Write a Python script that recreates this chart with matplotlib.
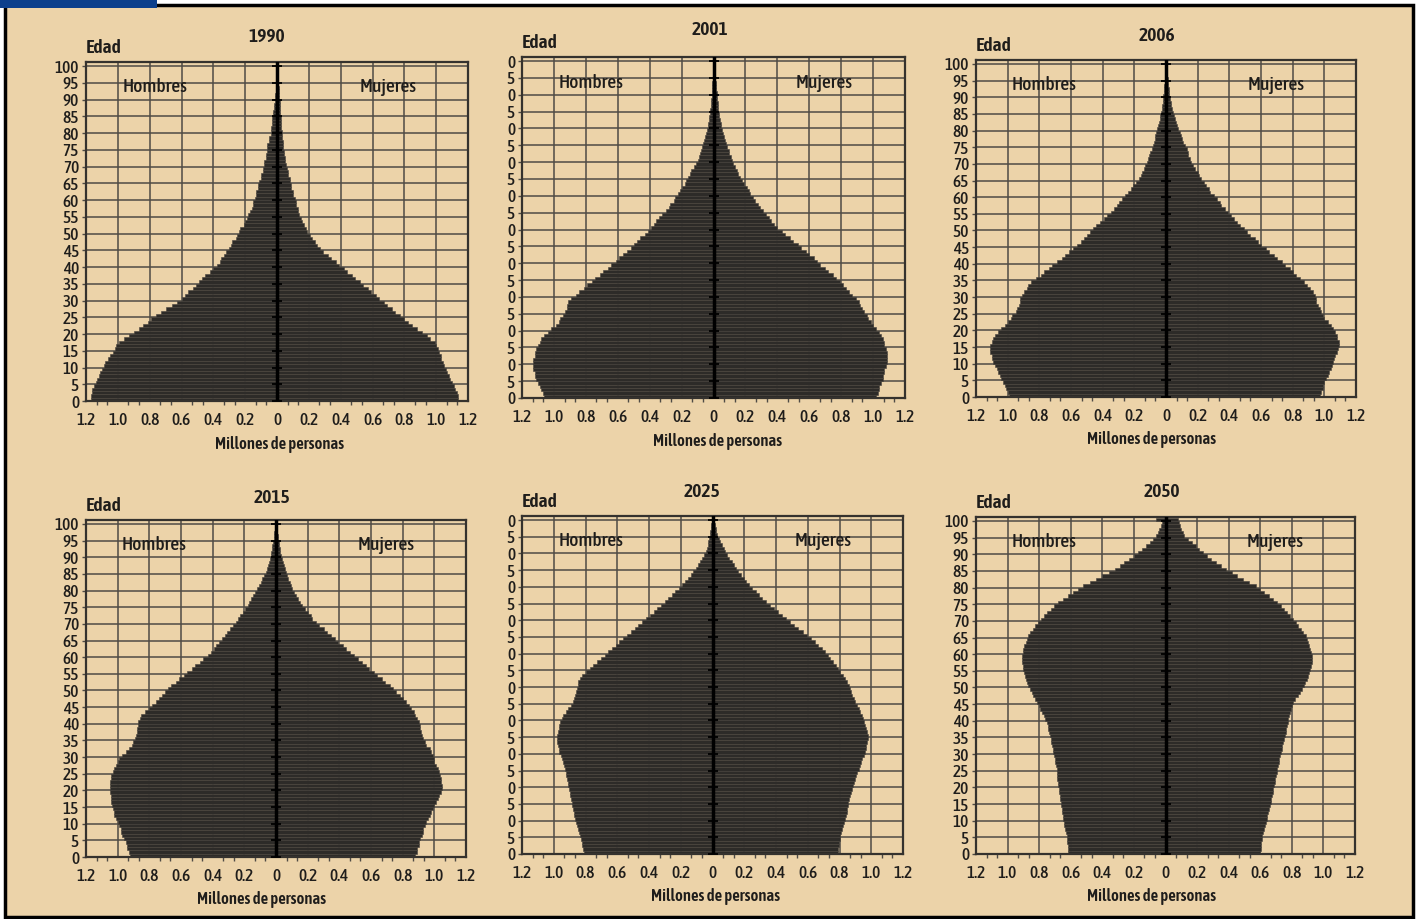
import matplotlib.pyplot as plt
import numpy as np
from matplotlib.patches import Rectangle
from matplotlib.ticker import AutoMinorLocator

plt.rcParams['font.family'] = ['Asap Condensed', 'Archivo Narrow', 'DejaVu Sans']

# ---- datos: millones de personas por edad simple (0..100) ----
ages = np.arange(0, 101)
years = ['1990', '2001', '2006', '2015', '2025', '2050']

hombres_1990 = [1.17, 1.17, 1.16, 1.16, 1.15, 1.14, 1.13, 1.12, 1.11, 1.10,
                1.09, 1.08, 1.06, 1.05, 1.03, 1.02, 1.01, 0.99, 0.96, 0.93,
                0.90, 0.87, 0.84, 0.81, 0.79, 0.76, 0.73, 0.70, 0.66, 0.63,
                0.60, 0.58, 0.56, 0.53, 0.51, 0.49, 0.47, 0.45, 0.42, 0.40,
                0.38, 0.36, 0.35, 0.33, 0.32, 0.30, 0.29, 0.28, 0.26, 0.25,
                0.24, 0.23, 0.21, 0.20, 0.19, 0.18, 0.17, 0.16, 0.15, 0.15,
                0.14, 0.13, 0.13, 0.12, 0.12, 0.11, 0.10, 0.10, 0.09, 0.09,
                0.08, 0.08, 0.07, 0.07, 0.06, 0.06, 0.06, 0.05, 0.05, 0.04,
                0.04, 0.04, 0.03, 0.03, 0.03, 0.025, 0.022, 0.02, 0.017, 0.015,
                0.013, 0.011, 0.009, 0.008, 0.006, 0.005, 0.004, 0.004, 0.003, 0.003, 0.002]
mujeres_1990 = [1.14, 1.14, 1.13, 1.12, 1.11, 1.10, 1.09, 1.08, 1.07, 1.06,
                1.05, 1.04, 1.03, 1.03, 1.02, 1.01, 1.00, 0.99, 0.96, 0.94,
                0.91, 0.88, 0.85, 0.82, 0.80, 0.77, 0.74, 0.72, 0.69, 0.67,
                0.64, 0.62, 0.59, 0.57, 0.54, 0.52, 0.49, 0.47, 0.44, 0.42,
                0.39, 0.37, 0.34, 0.32, 0.29, 0.27, 0.25, 0.24, 0.22, 0.21,
                0.19, 0.18, 0.17, 0.16, 0.15, 0.14, 0.13, 0.13, 0.12, 0.12,
                0.11, 0.10, 0.10, 0.09, 0.09, 0.08, 0.08, 0.07, 0.07, 0.06,
                0.056, 0.053, 0.05, 0.047, 0.043, 0.04, 0.038, 0.036, 0.034, 0.032,
                0.03, 0.028, 0.026, 0.024, 0.022, 0.02, 0.019, 0.018, 0.017, 0.016,
                0.015, 0.014, 0.012, 0.011, 0.009, 0.008, 0.007, 0.006, 0.005, 0.004, 0.003]

hombres_2001 = [1.06, 1.07, 1.08, 1.09, 1.10, 1.11, 1.12, 1.12, 1.13, 1.13,
                1.13, 1.13, 1.12, 1.12, 1.11, 1.10, 1.09, 1.08, 1.06, 1.04,
                1.02, 0.99, 0.97, 0.96, 0.94, 0.93, 0.92, 0.92, 0.91, 0.89,
                0.86, 0.84, 0.81, 0.79, 0.76, 0.74, 0.71, 0.69, 0.66, 0.64,
                0.61, 0.59, 0.57, 0.54, 0.52, 0.50, 0.48, 0.46, 0.43, 0.41,
                0.39, 0.37, 0.36, 0.34, 0.32, 0.30, 0.28, 0.27, 0.25, 0.24,
                0.22, 0.21, 0.20, 0.18, 0.17, 0.16, 0.15, 0.14, 0.12, 0.11,
                0.10, 0.093, 0.086, 0.08, 0.073, 0.066, 0.06, 0.054, 0.047, 0.041,
                0.035, 0.032, 0.029, 0.026, 0.023, 0.02, 0.018, 0.016, 0.014, 0.012,
                0.01, 0.009, 0.008, 0.007, 0.006, 0.005, 0.004, 0.004, 0.003, 0.003, 0.002]
mujeres_2001 = [1.02, 1.03, 1.04, 1.04, 1.05, 1.06, 1.06, 1.07, 1.07, 1.08,
                1.085, 1.085, 1.085, 1.085, 1.08, 1.07, 1.07, 1.06, 1.05, 1.04,
                1.02, 1.00, 0.99, 0.97, 0.96, 0.94, 0.93, 0.92, 0.91, 0.89,
                0.87, 0.85, 0.83, 0.81, 0.79, 0.77, 0.75, 0.72, 0.70, 0.67,
                0.65, 0.63, 0.60, 0.58, 0.55, 0.53, 0.50, 0.48, 0.45, 0.43,
                0.40, 0.38, 0.36, 0.35, 0.33, 0.31, 0.29, 0.28, 0.26, 0.25,
                0.23, 0.22, 0.21, 0.19, 0.18, 0.166, 0.155, 0.145, 0.134, 0.124,
                0.114, 0.107, 0.10, 0.094, 0.087, 0.08, 0.074, 0.067, 0.061, 0.054,
                0.048, 0.044, 0.041, 0.037, 0.034, 0.03, 0.028, 0.026, 0.023, 0.021,
                0.019, 0.017, 0.015, 0.014, 0.012, 0.01, 0.009, 0.007, 0.006, 0.005, 0.004]

hombres_2006 = [0.99, 1.00, 1.01, 1.02, 1.03, 1.04, 1.05, 1.06, 1.07, 1.08,
                1.09, 1.10, 1.10, 1.11, 1.11, 1.11, 1.10, 1.09, 1.08, 1.06,
                1.04, 1.02, 1.00, 0.98, 0.97, 0.95, 0.94, 0.93, 0.92, 0.92,
                0.91, 0.90, 0.88, 0.87, 0.85, 0.82, 0.79, 0.77, 0.74, 0.72,
                0.69, 0.66, 0.64, 0.61, 0.59, 0.56, 0.54, 0.52, 0.50, 0.48,
                0.46, 0.44, 0.42, 0.39, 0.37, 0.35, 0.33, 0.31, 0.30, 0.28,
                0.26, 0.24, 0.22, 0.21, 0.19, 0.17, 0.16, 0.15, 0.14, 0.13,
                0.12, 0.113, 0.105, 0.098, 0.091, 0.084, 0.078, 0.072, 0.067, 0.061,
                0.055, 0.05, 0.045, 0.04, 0.035, 0.03, 0.028, 0.025, 0.022, 0.02,
                0.017, 0.015, 0.013, 0.011, 0.009, 0.007, 0.006, 0.005, 0.004, 0.003, 0.002]
mujeres_2006 = [0.97, 0.98, 0.99, 0.99, 1.00, 1.01, 1.02, 1.03, 1.04, 1.05,
                1.055, 1.06, 1.07, 1.08, 1.085, 1.09, 1.09, 1.08, 1.08, 1.07,
                1.055, 1.04, 1.02, 1.00, 0.99, 0.98, 0.97, 0.96, 0.95, 0.95,
                0.94, 0.93, 0.91, 0.89, 0.87, 0.845, 0.82, 0.80, 0.78, 0.75,
                0.73, 0.70, 0.68, 0.65, 0.63, 0.60, 0.58, 0.56, 0.53, 0.51,
                0.49, 0.47, 0.45, 0.43, 0.41, 0.39, 0.37, 0.35, 0.34, 0.32,
                0.30, 0.28, 0.27, 0.25, 0.24, 0.22, 0.21, 0.20, 0.18, 0.17,
                0.16, 0.15, 0.14, 0.14, 0.13, 0.12, 0.11, 0.10, 0.095, 0.086,
                0.078, 0.071, 0.064, 0.056, 0.049, 0.042, 0.038, 0.034, 0.029, 0.025,
                0.021, 0.019, 0.017, 0.014, 0.012, 0.01, 0.009, 0.007, 0.006, 0.004, 0.003]

hombres_2015 = [0.92, 0.93, 0.94, 0.94, 0.95, 0.96, 0.97, 0.98, 0.98, 0.99,
                1.00, 1.01, 1.02, 1.02, 1.03, 1.035, 1.04, 1.04, 1.045, 1.05,
                1.05, 1.05, 1.05, 1.045, 1.04, 1.03, 1.02, 1.01, 1.00, 0.99,
                0.97, 0.95, 0.93, 0.91, 0.90, 0.89, 0.885, 0.88, 0.875, 0.87,
                0.87, 0.86, 0.85, 0.83, 0.80, 0.78, 0.76, 0.74, 0.72, 0.70,
                0.68, 0.66, 0.63, 0.61, 0.58, 0.56, 0.53, 0.51, 0.48, 0.46,
                0.43, 0.41, 0.39, 0.38, 0.36, 0.34, 0.32, 0.31, 0.29, 0.27,
                0.255, 0.24, 0.225, 0.21, 0.195, 0.18, 0.168, 0.155, 0.143, 0.13,
                0.118, 0.107, 0.097, 0.086, 0.076, 0.065, 0.059, 0.053, 0.046, 0.04,
                0.034, 0.03, 0.026, 0.023, 0.019, 0.015, 0.013, 0.011, 0.008, 0.006, 0.004]
mujeres_2015 = [0.88, 0.89, 0.89, 0.90, 0.90, 0.91, 0.92, 0.93, 0.93, 0.94,
                0.95, 0.96, 0.97, 0.98, 0.99, 1.00, 1.01, 1.02, 1.03, 1.04,
                1.046, 1.046, 1.04, 1.04, 1.035, 1.03, 1.02, 1.01, 1.00, 1.00,
                0.99, 0.98, 0.97, 0.95, 0.94, 0.93, 0.92, 0.915, 0.91, 0.91,
                0.905, 0.89, 0.88, 0.87, 0.85, 0.84, 0.82, 0.80, 0.78, 0.76,
                0.74, 0.72, 0.69, 0.67, 0.64, 0.62, 0.59, 0.57, 0.54, 0.52,
                0.49, 0.47, 0.44, 0.42, 0.39, 0.37, 0.35, 0.32, 0.30, 0.27,
                0.25, 0.23, 0.22, 0.20, 0.18, 0.167, 0.154, 0.141, 0.129, 0.116,
                0.103, 0.095, 0.086, 0.078, 0.069, 0.061, 0.055, 0.049, 0.042, 0.036,
                0.03, 0.026, 0.023, 0.019, 0.016, 0.012, 0.010, 0.008, 0.006, 0.005, 0.003]

hombres_2025 = [0.81, 0.815, 0.82, 0.825, 0.83, 0.835, 0.84, 0.85, 0.855, 0.86,
                0.866, 0.87, 0.875, 0.88, 0.884, 0.887, 0.89, 0.895, 0.90, 0.904,
                0.908, 0.912, 0.916, 0.92, 0.925, 0.93, 0.935, 0.94, 0.95, 0.957,
                0.965, 0.97, 0.975, 0.977, 0.977, 0.977, 0.975, 0.97, 0.965, 0.958,
                0.95, 0.94, 0.925, 0.908, 0.893, 0.877, 0.87, 0.865, 0.86, 0.855,
                0.85, 0.845, 0.835, 0.825, 0.80, 0.77, 0.75, 0.73, 0.705, 0.68,
                0.66, 0.635, 0.61, 0.59, 0.565, 0.54, 0.515, 0.49, 0.47, 0.445,
                0.42, 0.395, 0.37, 0.35, 0.325, 0.30, 0.28, 0.255, 0.235, 0.21,
                0.19, 0.172, 0.155, 0.138, 0.121, 0.104, 0.092, 0.079, 0.067, 0.054,
                0.042, 0.037, 0.031, 0.026, 0.02, 0.015, 0.013, 0.011, 0.008, 0.006, 0.004]
mujeres_2025 = [0.79, 0.79, 0.795, 0.795, 0.80, 0.80, 0.81, 0.815, 0.82, 0.83,
                0.835, 0.84, 0.845, 0.85, 0.853, 0.856, 0.862, 0.868, 0.875, 0.88,
                0.887, 0.894, 0.90, 0.907, 0.913, 0.92, 0.928, 0.936, 0.944, 0.952,
                0.96, 0.965, 0.97, 0.975, 0.978, 0.98, 0.975, 0.97, 0.963, 0.956,
                0.95, 0.94, 0.93, 0.92, 0.91, 0.90, 0.89, 0.88, 0.875, 0.868,
                0.86, 0.85, 0.835, 0.82, 0.805, 0.79, 0.775, 0.76, 0.74, 0.725,
                0.71, 0.69, 0.665, 0.645, 0.62, 0.595, 0.57, 0.54, 0.515, 0.49,
                0.46, 0.435, 0.41, 0.385, 0.36, 0.334, 0.313, 0.292, 0.272, 0.25,
                0.23, 0.213, 0.196, 0.18, 0.163, 0.146, 0.133, 0.12, 0.106, 0.093,
                0.08, 0.07, 0.06, 0.05, 0.04, 0.03, 0.025, 0.02, 0.016, 0.012, 0.008]

hombres_2050 = [0.615, 0.617, 0.62, 0.622, 0.624, 0.626, 0.63, 0.635, 0.64, 0.643,
                0.647, 0.65, 0.654, 0.657, 0.66, 0.664, 0.667, 0.67, 0.673, 0.677,
                0.68, 0.682, 0.684, 0.686, 0.688, 0.69, 0.694, 0.698, 0.702, 0.706,
                0.71, 0.714, 0.718, 0.722, 0.726, 0.73, 0.735, 0.741, 0.747, 0.753,
                0.76, 0.77, 0.78, 0.792, 0.803, 0.815, 0.826, 0.837, 0.848, 0.859,
                0.87, 0.876, 0.882, 0.888, 0.894, 0.90, 0.903, 0.907, 0.91, 0.908,
                0.905, 0.90, 0.893, 0.885, 0.878, 0.87, 0.855, 0.84, 0.825, 0.808,
                0.79, 0.77, 0.75, 0.725, 0.705, 0.68, 0.65, 0.62, 0.585, 0.555,
                0.52, 0.48, 0.44, 0.40, 0.36, 0.32, 0.29, 0.26, 0.23, 0.20,
                0.174, 0.15, 0.125, 0.10, 0.08, 0.06, 0.05, 0.04, 0.03, 0.02, 0.06]
mujeres_2050 = [0.60, 0.602, 0.605, 0.607, 0.61, 0.613, 0.618, 0.624, 0.629, 0.635,
                0.64, 0.645, 0.65, 0.656, 0.661, 0.666, 0.67, 0.674, 0.679, 0.683,
                0.687, 0.691, 0.695, 0.70, 0.704, 0.708, 0.712, 0.717, 0.721, 0.726,
                0.73, 0.735, 0.74, 0.746, 0.751, 0.756, 0.76, 0.764, 0.769, 0.773,
                0.777, 0.783, 0.79, 0.797, 0.803, 0.81, 0.823, 0.836, 0.85, 0.863,
                0.876, 0.884, 0.893, 0.901, 0.91, 0.918, 0.922, 0.926, 0.93, 0.927,
                0.924, 0.918, 0.91, 0.903, 0.895, 0.887, 0.872, 0.856, 0.84, 0.825,
                0.81, 0.79, 0.77, 0.75, 0.73, 0.708, 0.68, 0.653, 0.625, 0.598,
                0.57, 0.53, 0.49, 0.455, 0.42, 0.38, 0.35, 0.32, 0.29, 0.26,
                0.235, 0.21, 0.19, 0.165, 0.14, 0.12, 0.11, 0.10, 0.09, 0.085, 0.08]

hombres = [hombres_1990, hombres_2001, hombres_2006, hombres_2015, hombres_2025, hombres_2050]
mujeres = [mujeres_1990, mujeres_2001, mujeres_2006, mujeres_2015, mujeres_2025, mujeres_2050]

x_ticks = [-1.2, -1.0, -0.8, -0.6, -0.4, -0.2, 0, 0.2, 0.4, 0.6, 0.8, 1.0, 1.2]
x_labels = ['1.2', '1.0', '0.8', '0.6', '0.4', '0.2', '0', '0.2', '0.4', '0.6', '0.8', '1.0', '1.2']
y_ticks = list(range(0, 101, 5))

# ---- estilo / posiciones (pixeles de la imagen) ----
W, H = 1416, 919
BG = '#ecd3a9'
BAR = '#2d2b28'
GRID = '#4f4b45'
TXT = '#1f1d1b'

boxes = [(86, 62, 468, 401), (522, 57, 905, 398), (976, 60, 1356, 397),
         (86, 520, 466, 857), (522, 516, 903, 854), (976, 517, 1355, 854)]
title_pos = [(0.474, 1.074), (0.49, 1.079), (0.476, 1.071),
             (0.49, 1.065), (0.472, 1.071), (0.49, 1.074)]
xlabel_x = [0.508, 0.51, 0.463, 0.463, 0.507, 0.463]

fig = plt.figure(figsize=(W / 100, H / 100), dpi=100, facecolor='white')

# fondo beige con marco negro y barra azul arriba
fig.patches.append(Rectangle((5 / W, 2 / H), 1408 / W, 912 / H, transform=fig.transFigure,
                             facecolor=BG, edgecolor='black', lw=2.5, zorder=-10))
fig.patches.append(Rectangle((0, 1 - 8 / H), 157 / W, 8 / H, transform=fig.transFigure,
                             facecolor='#0b3f8c', edgecolor='none', zorder=-9))

for i, year in enumerate(years):
    l, t, r, b = boxes[i]
    ax = fig.add_axes([l / W, 1 - b / H, (r - l) / W, (b - t) / H])
    ax.set_facecolor(BG)

    ax.barh(ages, -np.array(hombres[i]), height=1, align='edge', color=BAR,
            edgecolor='#48443e', lw=0.4, zorder=2)
    ax.barh(ages, mujeres[i], height=1, align='edge', color=BAR,
            edgecolor='#48443e', lw=0.4, zorder=2)

    # eje central con marcas cada 5 años
    ax.axvline(0, color='black', lw=2.5, zorder=3)
    ax.plot(np.zeros(len(y_ticks)), y_ticks, ls='none', marker='_', ms=7, mew=1.3,
            color='black', zorder=4)

    ax.set_xlim(-1.2, 1.2)
    ax.set_ylim(0, 101.2)
    ax.set_xticks(x_ticks)
    ax.set_xticklabels(x_labels, fontsize=12.5, fontweight='medium', color=TXT)
    ax.set_yticks(y_ticks)
    if i in (1, 4):
        ylabs = [str(v)[-1] for v in y_ticks]  # etiquetas recortadas en el original
    else:
        ylabs = [str(v) for v in y_ticks]
    ax.set_yticklabels(ylabs, fontsize=12.5, fontweight='medium', color=TXT)
    ax.xaxis.set_minor_locator(AutoMinorLocator(3))
    ax.tick_params(axis='x', which='major', length=0, pad=8)
    ax.tick_params(axis='x', which='minor', length=3, width=1, color=GRID, direction='out')
    ax.tick_params(axis='y', length=3, width=1, color=GRID, pad=2)

    ax.grid(True, which='major', color=GRID, lw=1.1)
    ax.set_axisbelow(True)
    for s in ax.spines.values():
        s.set_color('#35322e')
        s.set_linewidth(1.6)

    tx, ty = title_pos[i]
    ax.text(tx, ty, year, transform=ax.transAxes, ha='center', va='center',
            fontsize=14, fontweight='semibold', color=TXT)
    ax.text(0.0, 1.041, 'Edad', transform=ax.transAxes, ha='left', va='center',
            fontsize=14, fontweight='semibold', color=TXT)
    ax.text(0.18, 0.925, 'Hombres', transform=ax.transAxes, ha='center', va='center',
            fontsize=14, fontweight='medium', color=TXT)
    ax.text(0.79, 0.925, 'Mujeres', transform=ax.transAxes, ha='center', va='center',
            fontsize=14, fontweight='medium', color=TXT)
    ax.text(xlabel_x[i], -0.127, 'Millones de personas', transform=ax.transAxes,
            ha='center', va='center', fontsize=12, fontweight='semibold', color=TXT)

fig.savefig('out.png', dpi=100, facecolor=fig.get_facecolor())
